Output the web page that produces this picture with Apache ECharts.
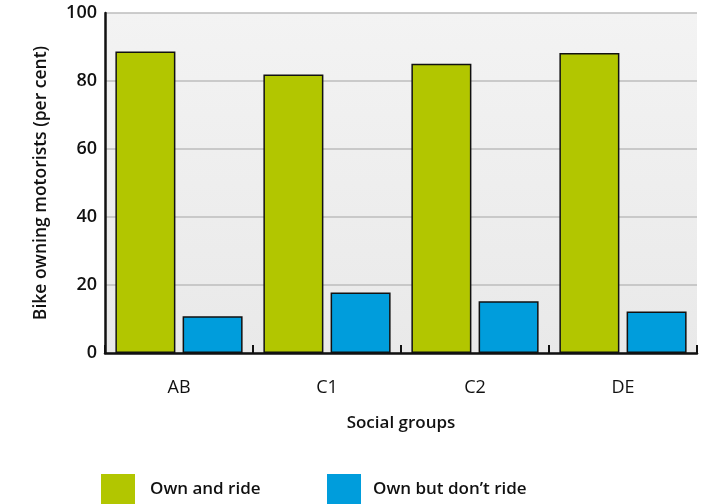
<!DOCTYPE html>
<html>
<head>
<meta charset="utf-8">
<script src="https://cdn.jsdelivr.net/npm/echarts@6/dist/echarts.min.js"></script>
<style>
html,body{margin:0;padding:0;background:#fff;}
#chart{width:702px;height:504px;}
</style>
</head>
<body>
<div id="chart"></div>
<script>
const categories = ['AB', 'C1', 'C2', 'DE'];
const ownAndRide = [88.7, 81.9, 85.1, 88.2];
const ownNoRide = [10.8, 17.8, 15.2, 12.2];
const seriesNames = ['Own and ride', 'Own but don\u2019t ride'];
const yTicks = [0, 20, 40, 60, 80, 100];

const FONT = 'Open Sans';
const chart = echarts.init(document.getElementById('chart'), null, {renderer: 'canvas'});

chart.setOption({
  animation: false,
  backgroundColor: '#ffffff',
  textStyle: {fontFamily: FONT, color: '#111'},
  grid: {
    left: 105, right: 5, top: 13, bottom: 151,
    show: true, borderWidth: 0,
    backgroundColor: new echarts.graphic.LinearGradient(0, 0, 0, 1, [
      {offset: 0, color: '#f3f3f3'},
      {offset: 1, color: '#e9e9e9'}
    ])
  },
  legend: [
    {
      data: [seriesNames[0]], left: 96, top: 469,
      itemWidth: 34, itemHeight: 30,
      icon: 'rect',
      itemStyle: {borderWidth: 0},
      textStyle: {fontFamily: FONT, fontWeight: 600, fontSize: 17, color: '#111', padding: [0, 0, 0, 10]}
    },
    {
      data: [seriesNames[1]], left: 322, top: 469,
      itemWidth: 34, itemHeight: 30,
      icon: 'rect',
      itemStyle: {borderWidth: 0},
      textStyle: {fontFamily: FONT, fontWeight: 600, fontSize: 17, color: '#111', padding: [0, 0, 0, 7]}
    }
  ],
  xAxis: {
    type: 'category',
    data: categories,
    name: 'Social groups',
    nameLocation: 'middle',
    nameGap: 62,
    nameTextStyle: {fontFamily: FONT, fontWeight: 600, fontSize: 17, color: '#111'},
    axisLine: {show: true, lineStyle: {color: '#111', width: 2.5}},
    axisTick: {show: true, inside: true, length: 8, lineStyle: {color: '#111', width: 2}},
    axisLabel: {margin: 26, fontFamily: FONT, fontSize: 18, color: '#111'},
    splitLine: {show: false}
  },
  yAxis: {
    type: 'value',
    min: 0, max: 100, interval: 20,
    name: 'Bike owning motorists (per cent)',
    nameLocation: 'middle',
    nameGap: 55,
    nameTextStyle: {fontFamily: FONT, fontWeight: 600, fontSize: 17.5, color: '#111'},
    axisLine: {show: true, lineStyle: {color: '#111', width: 2.5}},
    axisTick: {show: false},
    axisLabel: {
      margin: 8, fontFamily: FONT, fontWeight: 600, fontSize: 18, color: '#111',
      formatter: function (v) { return yTicks.indexOf(v) >= 0 ? String(v) : ''; }
    },
    splitLine: {show: true, lineStyle: {color: '#bdbdbd', width: 1.5}}
  },
  series: [
    {
      name: seriesNames[0], type: 'bar', data: ownAndRide,
      barWidth: 60, barGap: '12%',
      itemStyle: {color: '#b2c600', borderColor: '#111', borderWidth: 1.5}
    },
    {
      name: seriesNames[1], type: 'bar', data: ownNoRide,
      barWidth: 60, barGap: '12%',
      itemStyle: {color: '#009ddc', borderColor: '#111', borderWidth: 1.5}
    }
  ]
});
</script>
</body>
</html>
